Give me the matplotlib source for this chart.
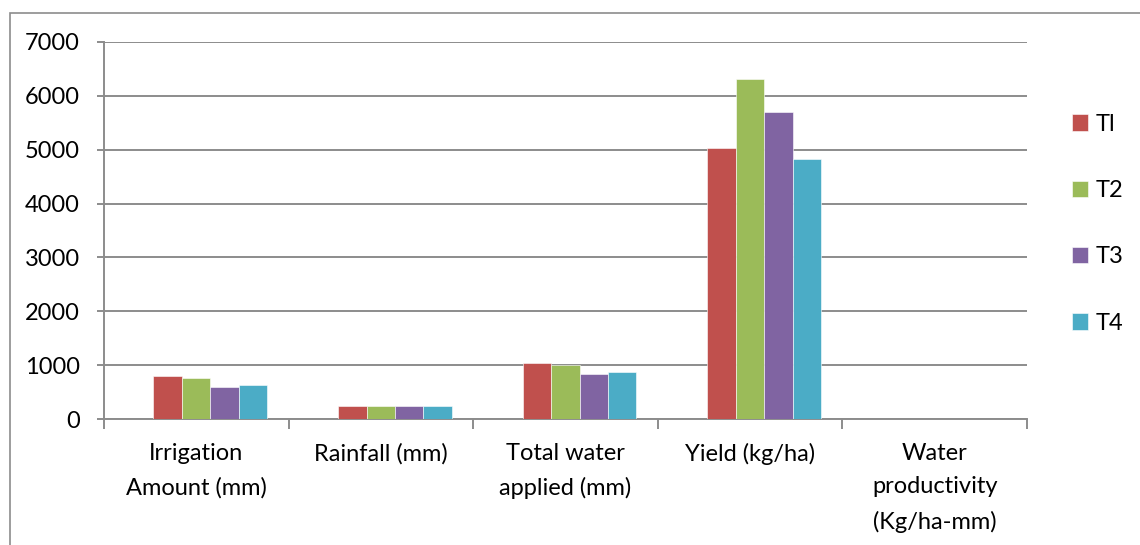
import matplotlib
matplotlib.use("Agg")
import matplotlib.pyplot as plt
import numpy as np
from matplotlib.patches import Rectangle

categories = ["Irrigation\nAmount (mm)", "Rainfall (mm)", "Total water\napplied (mm)",
              "Yield (kg/ha)", "Water\nproductivity\n(Kg/ha-mm)"]
series_names = ["Tl", "T2", "T3", "T4"]
T1 = [795, 242, 1043, 5025, 4.8]
T2 = [764, 242, 1006, 6311, 6.3]
T3 = [590, 242, 838, 5702, 6.8]
T4 = [627, 242, 876, 4826, 5.5]
series = [T1, T2, T3, T4]
colors = ["#C0504D", "#9BBB59", "#8064A2", "#4BACC6"]
yticks = [0, 1000, 2000, 3000, 4000, 5000, 6000, 7000]

plt.rcParams['font.family'] = ['Lato', 'DejaVu Sans']
FS = 17
fig = plt.figure(figsize=(11.4, 5.45), dpi=100)
W, H = 1140, 545
ax = fig.add_axes([104 / W, 1 - 419 / H, (1027 - 104) / W, (419 - 42) / H])

n = len(categories)
x = np.arange(n)
bw = 0.154
shift = 0.076
for i, (s, c) in enumerate(zip(series, colors)):
    ax.bar(x + shift + (i - 1.5) * bw, s, width=bw, color=c, label=series_names[i],
           edgecolor='white', linewidth=0.4, zorder=3)

ax.set_xlim(-0.5, n - 0.5)
ax.set_ylim(0, 7000)
ax.set_yticks(yticks)
ax.set_yticklabels([str(v) for v in yticks], fontsize=FS)
ax.yaxis.grid(True, color='#8C8C8C', linewidth=1.4, zorder=0)
ax.set_axisbelow(True)

ax.set_xticks(np.arange(-0.5, n, 1.0))
ax.set_xticklabels([])
ax.set_xticks(x, minor=True)
ax.set_xticklabels(categories, minor=True, fontsize=FS, linespacing=1.74)
ax.tick_params(axis='x', which='minor', length=0, pad=17)
ax.tick_params(axis='x', which='major', length=7, width=1.4, color='#8C8C8C', direction='out')
ax.tick_params(axis='y', length=5, width=1.4, color='#8C8C8C', direction='out', pad=12.5)

for sp in ['top', 'right']:
    ax.spines[sp].set_visible(False)
for sp in ['left', 'bottom']:
    ax.spines[sp].set_color('#8C8C8C')
    ax.spines[sp].set_linewidth(1.4)

leg = ax.legend(loc='upper left', bbox_to_anchor=(1060 / W, 1 - 102 / H), bbox_transform=fig.transFigure,
                frameon=False, fontsize=FS, labelspacing=1.92, handlelength=0.7, handleheight=0.7,
                handletextpad=0.3, borderpad=0)

fig.patches.append(Rectangle((10 / W, -0.1), 1.2, 1.1 - 13 / H, transform=fig.transFigure,
                             fill=False, edgecolor='#8C8C8C', linewidth=1.2))

fig.savefig("out.png", dpi=100, facecolor='white')
